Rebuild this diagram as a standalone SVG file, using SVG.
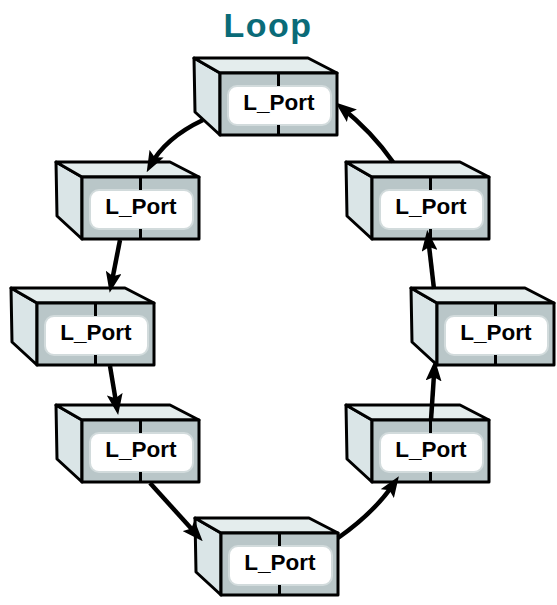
<svg xmlns="http://www.w3.org/2000/svg" xmlns:xlink="http://www.w3.org/1999/xlink" width="557" height="605" viewBox="0 0 557 605">
  <style>
    .face { stroke: #000; stroke-width: 3; stroke-linejoin: round; }
    .side { fill: #dae5e7; }
    .top { fill: #e4eded; }
    .front { fill: #b9c6c8; }
    .label { fill: #fff; stroke: #d2dbdc; stroke-width: 2; }
    .divider { stroke: #000; stroke-width: 3; }
    .port { font-family: "Liberation Sans", Arial, sans-serif; font-weight: bold; font-size: 22.5px; fill: #000; text-anchor: middle; }
    .title { font-family: "Liberation Sans", Arial, sans-serif; font-weight: bold; font-size: 34px; fill: #0a6b78; text-anchor: middle; letter-spacing: 1.5px; }
    .link { fill: none; stroke: #000; stroke-width: 4.5; marker-end: url(#arrow); }
  </style>
  <defs>
    <marker id="arrow" viewBox="-14 -8 21 16" refX="0" refY="0" markerWidth="21" markerHeight="16" markerUnits="userSpaceOnUse" orient="auto">
      <path d="M-14,-8 L7,0 L-14,8 L-10,0 z" fill="#000"/>
    </marker>
    <!-- port box: origin at the top-left corner of the front face -->
    <g id="box">
      <polygon class="face side" points="-26,-15 0,0 0,62 -25,39"/>
      <polygon class="face top" points="-26,-15 88,-15 117,0 0,0"/>
      <rect class="face front" x="0" y="0" width="117" height="62"/>
      <rect class="label" x="8" y="13" width="103" height="39" rx="9"/>
      <line class="divider" x1="58.5" y1="0" x2="58.5" y2="13"/>
      <line class="divider" x1="58.5" y1="52" x2="58.5" y2="62"/>
    </g>
  </defs>

  <text class="title" x="268" y="37">Loop</text>

  <g id="port-top" transform="translate(220,73)">
    <use xlink:href="#box"/>
    <text class="port" x="59" y="37">L_Port</text>
  </g>
  <g id="port-left-1" transform="translate(82,177)">
    <use xlink:href="#box"/>
    <text class="port" x="59" y="37">L_Port</text>
  </g>
  <g id="port-right-1" transform="translate(372,177)">
    <use xlink:href="#box"/>
    <text class="port" x="59" y="37">L_Port</text>
  </g>
  <g id="port-left-2" transform="translate(37,303)">
    <use xlink:href="#box"/>
    <text class="port" x="59" y="37">L_Port</text>
  </g>
  <g id="port-right-2" transform="translate(437,303)">
    <use xlink:href="#box"/>
    <text class="port" x="59" y="37">L_Port</text>
  </g>
  <g id="port-left-3" transform="translate(82,420)">
    <use xlink:href="#box"/>
    <text class="port" x="59" y="37">L_Port</text>
  </g>
  <g id="port-right-3" transform="translate(372,420)">
    <use xlink:href="#box"/>
    <text class="port" x="59" y="37">L_Port</text>
  </g>
  <g id="port-bottom" transform="translate(221,533)">
    <use xlink:href="#box"/>
    <text class="port" x="59" y="37">L_Port</text>
  </g>

  <!-- loop links, running counter-clockwise from the top port -->
  <g id="links">
    <path class="link" d="M203,120 Q165,138 150,166"/>
    <path class="link" d="M120,240 L111,286"/>
    <path class="link" d="M110,366 L117,408"/>
    <path class="link" d="M150,483 L198,536"/>
    <path class="link" d="M338,538 Q375,512 395,482"/>
    <path class="link" d="M431,420 L434.5,367"/>
    <path class="link" d="M434,289 L428,237"/>
    <path class="link" d="M393,162 Q372,132 341,107"/>
  </g>
</svg>
